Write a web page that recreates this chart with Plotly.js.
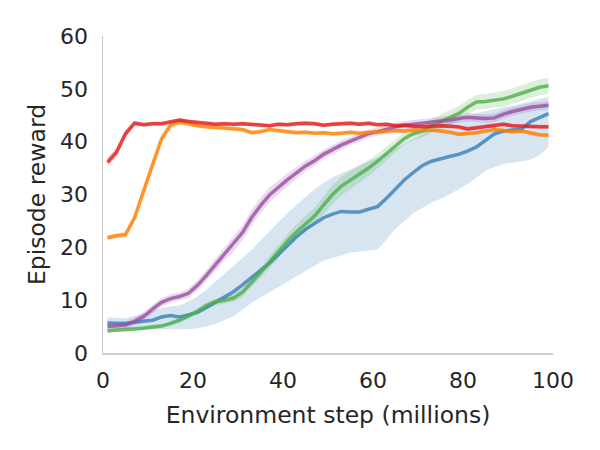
<!DOCTYPE html>
<html>
<head>
<meta charset="utf-8">
<script src="https://cdn.plot.ly/plotly-3.0.1.min.js"></script>
<style>
  html, body { margin: 0; padding: 0; background: #ffffff; }
  #chart { width: 600px; height: 450px; }
</style>
</head>
<body>
<div id="chart"></div>
<script>
// Environment steps (millions) at which each run was evaluated
const steps = [1, 3, 5, 7, 9, 11, 13, 15, 17, 19,
               21, 23, 25, 27, 29, 31, 33, 35, 37, 39,
               41, 43, 45, 47, 49, 51, 53, 55, 57, 59,
               61, 63, 65, 67, 69, 71, 73, 75, 77, 79,
               81, 83, 85, 87, 89, 91, 93, 95, 97, 99];

// Mean episode reward per agent
const redMean = [36.1, 38.0, 41.5, 43.5, 43.2, 43.4, 43.4, 43.8, 44.1, 43.8,
                 43.6, 43.4, 43.3, 43.4, 43.3, 43.4, 43.3, 43.2, 43.0, 43.3,
                 43.2, 43.4, 43.5, 43.4, 43.1, 43.3, 43.4, 43.5, 43.3, 43.5,
                 43.2, 43.3, 43.0, 43.1, 42.9, 42.8, 42.9, 43.0, 42.9, 42.8,
                 42.4, 42.6, 42.8, 43.0, 43.3, 43.0, 42.9, 42.8, 42.8, 42.8];
const orangeMean = [21.8, 22.2, 22.4, 25.6, 30.6, 35.8, 40.5, 43.1, 43.7, 43.4,
                    43.0, 42.8, 42.7, 42.6, 42.4, 42.3, 41.7, 41.9, 42.3, 42.1,
                    41.8, 41.7, 41.8, 41.6, 41.7, 41.5, 41.6, 41.8, 41.6, 41.7,
                    41.8, 42.0, 42.1, 42.0, 42.2, 42.1, 42.2, 42.0, 41.8, 41.4,
                    41.5, 41.7, 42.0, 42.3, 42.1, 41.9, 42.0, 41.7, 41.3, 41.2];
const purpleMean = [5.0, 5.2, 5.3, 6.0, 6.9, 8.3, 9.6, 10.3, 10.7, 11.3,
                    12.8, 14.7, 16.7, 18.8, 20.6, 22.8, 25.6, 27.9, 29.9, 31.4,
                    32.8, 34.1, 35.4, 36.4, 37.6, 38.5, 39.4, 40.1, 40.8, 41.5,
                    41.9, 42.4, 42.8, 43.1, 43.3, 43.5, 43.6, 43.8, 44.1, 44.4,
                    44.6, 44.5, 44.4, 44.5, 45.2, 45.7, 46.1, 46.5, 46.7, 46.9];
const greenMean = [4.2, 4.3, 4.4, 4.5, 4.7, 4.9, 5.1, 5.6, 6.2, 7.0,
                   7.9, 9.0, 9.7, 10.0, 10.4, 11.5, 13.3, 15.2, 17.2, 19.3,
                   21.2, 22.9, 24.5, 25.9, 28.0, 30.0, 31.6, 32.7, 33.8, 35.0,
                   36.3, 37.8, 39.3, 40.6, 41.5, 42.0, 43.0, 43.8, 44.6, 45.3,
                   46.5, 47.5, 47.6, 47.9, 48.1, 48.6, 49.2, 49.8, 50.3, 50.6];
const blueMean = [5.7, 5.7, 5.6, 5.8, 6.0, 6.2, 6.8, 7.1, 6.8, 7.2,
                  7.7, 8.6, 9.6, 10.6, 11.6, 12.9, 14.2, 15.5, 17.0, 18.7,
                  20.4, 22.0, 23.4, 24.6, 25.6, 26.3, 26.8, 26.7, 26.7, 27.2,
                  27.7, 29.3, 31.0, 32.8, 34.2, 35.5, 36.3, 36.8, 37.2, 37.6,
                  38.2, 39.0, 40.3, 41.5, 42.0, 42.2, 42.4, 43.8, 44.5, 45.3];

// Spread around the mean (half-width of the shaded band)
const redSpread = [0.8, 0.8, 0.7, 0.5, 0.4, 0.4, 0.4, 0.4, 0.4, 0.4,
                   0.4, 0.4, 0.4, 0.4, 0.4, 0.4, 0.4, 0.4, 0.4, 0.4,
                   0.4, 0.4, 0.4, 0.4, 0.4, 0.4, 0.4, 0.4, 0.4, 0.4,
                   0.4, 0.4, 0.4, 0.4, 0.4, 0.4, 0.4, 0.4, 0.4, 0.4,
                   0.4, 0.4, 0.4, 0.4, 0.4, 0.4, 0.4, 0.4, 0.4, 0.4];
const orangeSpread = [0.5, 0.5, 0.6, 0.8, 0.9, 0.9, 0.8, 0.6, 0.5, 0.5,
                      0.4, 0.4, 0.4, 0.4, 0.4, 0.4, 0.4, 0.4, 0.4, 0.4,
                      0.4, 0.4, 0.4, 0.4, 0.4, 0.4, 0.4, 0.4, 0.4, 0.4,
                      0.4, 0.4, 0.4, 0.4, 0.4, 0.4, 0.4, 0.4, 0.4, 0.4,
                      0.4, 0.4, 0.4, 0.4, 0.4, 0.4, 0.4, 0.4, 0.4, 0.4];
const purpleSpread = [0.7, 0.7, 0.7, 0.7, 0.8, 0.8, 0.8, 0.8, 0.8, 0.9,
                      1.0, 1.1, 1.2, 1.3, 1.4, 1.4, 1.5, 1.5, 1.4, 1.3,
                      1.2, 1.1, 1.0, 1.0, 0.9, 0.9, 0.9, 0.8, 0.8, 0.8,
                      0.8, 0.8, 0.8, 0.8, 0.8, 0.8, 0.8, 0.8, 0.8, 0.8,
                      0.8, 0.8, 0.8, 0.8, 0.8, 0.8, 0.8, 0.8, 0.8, 0.8];
const greenSpread = [0.4, 0.4, 0.4, 0.4, 0.4, 0.4, 0.4, 0.4, 0.5, 0.5,
                     0.6, 0.6, 0.6, 0.7, 0.7, 0.8, 0.9, 1.0, 1.1, 1.2,
                     1.3, 1.4, 1.5, 1.6, 1.7, 1.8, 1.8, 1.7, 1.6, 1.5,
                     1.4, 1.3, 1.2, 1.2, 1.2, 1.2, 1.3, 1.4, 1.4, 1.4,
                     1.4, 1.4, 1.4, 1.4, 1.5, 1.5, 1.5, 1.5, 1.5, 1.5];

// The blue agent varies a lot between runs: explicit lower / upper bounds
const blueLow = [4.7, 4.7, 4.6, 4.6, 4.5, 4.5, 4.5, 4.4, 4.4, 4.5,
                 4.7, 5.0, 5.5, 6.2, 7.0, 8.2, 9.5, 10.5, 11.5, 12.5,
                 13.5, 14.5, 15.5, 16.5, 17.5, 18.0, 18.5, 19.0, 19.2, 19.4,
                 19.6, 21.5, 23.5, 25.0, 26.5, 27.5, 28.5, 29.2, 30.0, 31.0,
                 32.0, 33.2, 34.5, 35.2, 35.8, 36.0, 36.3, 36.6, 37.5, 39.0];
const blueHigh = [6.7, 6.7, 6.6, 7.0, 7.5, 8.0, 8.5, 8.8, 9.0, 9.8,
                  10.7, 12.0, 13.5, 15.0, 16.5, 18.0, 19.5, 21.3, 23.0, 24.8,
                  26.5, 28.0, 29.5, 31.0, 32.2, 33.2, 34.0, 34.8, 35.5, 36.3,
                  37.0, 37.8, 38.7, 39.6, 40.5, 41.5, 42.5, 43.3, 44.0, 44.5,
                  45.0, 45.4, 45.8, 46.2, 46.5, 46.8, 47.2, 47.6, 48.0, 48.5];

const yTicks = [0, 10, 20, 30, 40, 50, 60];
const xTicks = [0, 20, 40, 60, 80, 100];

// Set1-style palette
const palette = {
  red: [228, 26, 28],
  orange: [255, 127, 0],
  purple: [152, 78, 163],
  green: [77, 175, 74],
  blue: [55, 126, 184]
};
const rgba = (c, a) => `rgba(${c[0]},${c[1]},${c[2]},${a})`;

function bandTraces(lower, upper, color) {
  return [
    { x: steps, y: upper, type: 'scatter', mode: 'lines',
      line: { width: 0, color: rgba(color, 0) }, hoverinfo: 'skip', showlegend: false },
    { x: steps, y: lower, type: 'scatter', mode: 'lines', fill: 'tonexty',
      fillcolor: rgba(color, 0.2), line: { width: 0, color: rgba(color, 0) },
      hoverinfo: 'skip', showlegend: false }
  ];
}
function bandFromSpread(mean, spread, color) {
  const lo = mean.map((v, i) => v - spread[i]);
  const hi = mean.map((v, i) => v + spread[i]);
  return bandTraces(lo, hi, color);
}
function lineTrace(mean, color) {
  return { x: steps, y: mean, type: 'scatter', mode: 'lines',
           line: { width: 3.5, color: rgba(color, 0.8) }, showlegend: false };
}

const traces = [].concat(
  bandTraces(blueLow, blueHigh, palette.blue),
  bandFromSpread(greenMean, greenSpread, palette.green),
  bandFromSpread(purpleMean, purpleSpread, palette.purple),
  bandFromSpread(orangeMean, orangeSpread, palette.orange),
  bandFromSpread(redMean, redSpread, palette.red),
  [lineTrace(blueMean, palette.blue),
   lineTrace(greenMean, palette.green),
   lineTrace(purpleMean, palette.purple),
   lineTrace(orangeMean, palette.orange),
   lineTrace(redMean, palette.red)]
);

const textColor = '#262626';
const font = { family: 'DejaVu Sans', color: textColor };

const layout = {
  width: 600, height: 450,
  margin: { l: 103, r: 47, t: 36, b: 97 },
  paper_bgcolor: '#ffffff', plot_bgcolor: '#ffffff',
  font: font,
  showlegend: false,
  xaxis: {
    range: [0, 100], tickvals: xTicks, ticktext: xTicks.map(String),
    showgrid: false, zeroline: false, showline: true,
    linecolor: '#cccccc', linewidth: 1.5, ticks: '',
    ticklabelstandoff: 7,
    tickfont: { family: 'DejaVu Sans', size: 22, color: textColor },
    title: { text: 'Environment step (millions)', standoff: 14,
             font: { family: 'DejaVu Sans', size: 23.5, color: textColor } }
  },
  yaxis: {
    range: [0, 60], tickvals: yTicks, ticktext: yTicks.map(String),
    showgrid: false, zeroline: false, showline: true,
    linecolor: '#cccccc', linewidth: 1.5, ticks: '',
    ticklabelstandoff: 9,
    tickfont: { family: 'DejaVu Sans', size: 22, color: textColor },
    title: { text: 'Episode reward', standoff: 8,
             font: { family: 'DejaVu Sans', size: 23.5, color: textColor } }
  }
};

Plotly.newPlot('chart', traces, layout, { staticPlot: true, displayModeBar: false });
</script>
</body>
</html>
